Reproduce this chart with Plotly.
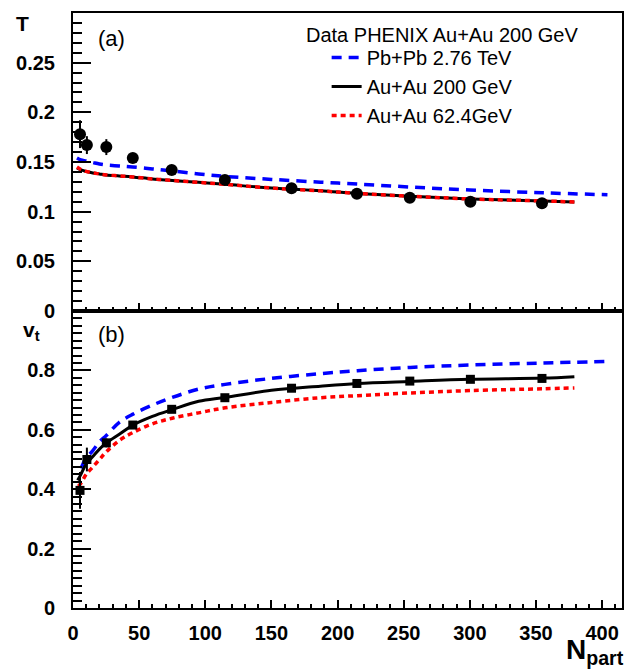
import plotly.graph_objects as go

# ---------------- data ----------------
npart = [5.3, 10.5, 25.2, 45.2, 74.6, 114.8, 165.2, 214.6, 254.6, 300.4, 354.5]
T_data = [0.178, 0.167, 0.165, 0.154, 0.142, 0.132, 0.1235, 0.118, 0.114, 0.110, 0.1085]
T_err = [0.014, 0.009, 0.008, 0.004, 0.003, 0.003, 0.003, 0.003, 0.003, 0.003, 0.003]
vt_data = [0.396, 0.500, 0.556, 0.616, 0.669, 0.708, 0.740, 0.756, 0.764, 0.770, 0.773]
vt_err = [0.062, 0.040, 0.015, 0.012, 0.010, 0.010, 0.010, 0.010, 0.010, 0.010, 0.010]

# model curves, panel (a): T vs Npart
npart_pb = [3, 6, 10, 15, 20, 25, 35, 45, 60, 75, 95, 115, 150, 187, 215, 255, 300, 355, 404]
T_pb = [0.154, 0.152, 0.151, 0.1495, 0.148, 0.147, 0.146, 0.145, 0.143, 0.141, 0.138,
        0.1355, 0.1325, 0.1297, 0.1278, 0.1248, 0.1218, 0.119, 0.117]
npart_au = [3, 6, 10, 15, 20, 25, 35, 45, 60, 75, 95, 115, 150, 187, 215, 255, 300, 355, 379]
T_au200 = [0.144, 0.142, 0.1405, 0.139, 0.138, 0.137, 0.136, 0.135, 0.133, 0.1315, 0.1295,
           0.1275, 0.1238, 0.121, 0.1183, 0.1155, 0.1128, 0.1108, 0.1098]
T_au62 = [0.145, 0.1425, 0.1405, 0.139, 0.138, 0.137, 0.136, 0.135, 0.133, 0.1315, 0.1295,
          0.1275, 0.1238, 0.121, 0.1183, 0.1155, 0.1128, 0.1108, 0.1098]

# model curves, panel (b): v_t vs Npart
npart_pb_v = [6, 10, 15, 20, 25, 35, 45, 60, 75, 95, 115, 150, 187, 215, 255, 300, 355, 404]
vt_pb = [0.47, 0.505, 0.53, 0.56, 0.58, 0.625, 0.652, 0.683, 0.709, 0.737, 0.753, 0.773,
         0.789, 0.799, 0.810, 0.818, 0.825, 0.830]
npart_au200_v = [3.5, 6, 10, 15, 20, 25, 35, 45, 60, 75, 95, 115, 150, 187, 215, 255, 300, 355, 379]
vt_au200 = [0.43, 0.45, 0.485, 0.51, 0.535, 0.555, 0.585, 0.615, 0.645, 0.668, 0.696, 0.709,
            0.733, 0.747, 0.756, 0.763, 0.770, 0.774, 0.779]
npart_au62_v = [4, 6, 10, 15, 20, 25, 35, 45, 60, 75, 95, 115, 150, 187, 215, 255, 300, 355, 379]
vt_au62 = [0.41, 0.42, 0.45, 0.475, 0.50, 0.525, 0.564, 0.59, 0.62, 0.639, 0.657, 0.674,
           0.692, 0.708, 0.715, 0.724, 0.732, 0.738, 0.741]

x_ticks = [0, 50, 100, 150, 200, 250, 300, 350, 400]
T_ticks = [0, 0.05, 0.1, 0.15, 0.2, 0.25]
vt_ticks = [0, 0.2, 0.4, 0.6, 0.8]

labels = ["Pb+Pb 2.76 TeV", "Au+Au 200 GeV", "Au+Au 62.4GeV"]
header = "Data PHENIX Au+Au 200 GeV"

# ---------------- styling ----------------
FONT = "Liberation Sans, Arial, Helvetica, sans-serif"
BLUE = "#0000ff"
RED = "#ff0000"
BLACK = "#000000"
blue_line = dict(color=BLUE, width=3.5, dash="10px,7px")
black_line = dict(color=BLACK, width=3)
red_line = dict(color=RED, width=3.5, dash="5px,4px")

fig = go.Figure()

# panel (a)
fig.add_trace(go.Scatter(x=npart_pb, y=T_pb, mode="lines", line=blue_line, line_shape="spline",
                         xaxis="x2", yaxis="y2", name=labels[0], showlegend=True))
fig.add_trace(go.Scatter(x=npart_au, y=T_au200, mode="lines", line=black_line, line_shape="spline",
                         xaxis="x2", yaxis="y2", name=labels[1], showlegend=True))
fig.add_trace(go.Scatter(x=npart_au, y=T_au62, mode="lines", line=red_line, line_shape="spline",
                         xaxis="x2", yaxis="y2", name=labels[2], showlegend=True))
fig.add_trace(go.Scatter(x=npart, y=T_data, mode="markers", xaxis="x2", yaxis="y2",
                         marker=dict(symbol="circle", size=12, color=BLACK),
                         error_y=dict(type="data", array=T_err, color=BLACK, thickness=2, width=0),
                         showlegend=False))

# panel (b)
fig.add_trace(go.Scatter(x=npart_pb_v, y=vt_pb, mode="lines", line=blue_line, line_shape="spline",
                         xaxis="x", yaxis="y", showlegend=False))
fig.add_trace(go.Scatter(x=npart_au62_v, y=vt_au62, mode="lines", line=red_line, line_shape="spline",
                         xaxis="x", yaxis="y", showlegend=False))
fig.add_trace(go.Scatter(x=npart_au200_v, y=vt_au200, mode="lines", line=black_line, line_shape="spline",
                         xaxis="x", yaxis="y", showlegend=False))
fig.add_trace(go.Scatter(x=npart, y=vt_data, mode="markers", xaxis="x", yaxis="y",
                         marker=dict(symbol="square", size=9, color=BLACK),
                         error_y=dict(type="data", array=vt_err, color=BLACK, thickness=2, width=0),
                         showlegend=False))

split = (608 - 310) / 597.0

common_x = dict(range=[0, 415], showline=True, linecolor=BLACK, linewidth=2, mirror=True,
                ticks="inside", ticklen=8, tickwidth=2, tickcolor=BLACK,
                tickvals=x_ticks, showgrid=False, zeroline=False,
                minor=dict(dtick=10, ticks="inside", ticklen=4, tickwidth=2, tickcolor=BLACK,
                           showgrid=False))

fig.update_layout(
    width=638, height=671, autosize=False,
    margin=dict(l=73, r=16, t=11, b=63),
    paper_bgcolor="white", plot_bgcolor="white",
    font=dict(family=FONT, size=20, color=BLACK),
    xaxis=dict(common_x, anchor="y", domain=[0, 1],
               tickfont=dict(family=FONT, size=20, weight="bold"), ticklabelstandoff=6),
    xaxis2=dict(common_x, anchor="y2", domain=[0, 1], showticklabels=False),
    yaxis=dict(domain=[0, split], range=[0, 1.0], anchor="x",
               showline=True, linecolor=BLACK, linewidth=2, mirror=True,
               ticks="inside", ticklen=18, tickwidth=2, tickcolor=BLACK,
               tickvals=vt_ticks, showgrid=False, zeroline=False,
               tickfont=dict(family=FONT, size=20, weight="bold"), ticklabelstandoff=12,
               minor=dict(dtick=0.025, ticks="inside", ticklen=9, tickwidth=2,
                          tickcolor=BLACK, showgrid=False)),
    yaxis2=dict(domain=[split, 1], range=[0, 0.3], anchor="x2",
                showline=True, linecolor=BLACK, linewidth=2, mirror=True,
                ticks="inside", ticklen=18, tickwidth=2, tickcolor=BLACK,
                tickvals=T_ticks, showgrid=False, zeroline=False,
                tickfont=dict(family=FONT, size=20, weight="bold"), ticklabelstandoff=12,
                minor=dict(dtick=0.01, ticks="inside", ticklen=9, tickwidth=2,
                           tickcolor=BLACK, showgrid=False)),
    legend=dict(x=0.462, y=0.958, xanchor="left", yanchor="top",
                bgcolor="rgba(0,0,0,0)", borderwidth=0,
                font=dict(family=FONT, size=20, color=BLACK),
                traceorder="normal", itemwidth=30),
    showlegend=True,
)

def px_x(px):
    return (px - 73.0) / (638 - 73 - 16)

def px_y(py):
    return (608 - py) / 597.0

annots = [
    dict(text="(a)", x=px_x(96), y=px_y(37), xanchor="left", yanchor="middle",
         font=dict(size=22)),
    dict(text="(b)", x=px_x(96), y=px_y(334), xanchor="left", yanchor="middle",
         font=dict(size=22)),
    dict(text=header, x=px_x(304), y=px_y(33), xanchor="left", yanchor="middle",
         font=dict(size=20)),
    dict(text="<b>T</b>", x=px_x(22), y=px_y(22), xanchor="center", yanchor="middle",
         font=dict(size=21)),
    dict(text="<b>v<sub>t</sub></b>", x=px_x(31), y=px_y(330), xanchor="center",
         yanchor="middle", font=dict(size=21)),
    dict(text="<b>N<sub>part</sub></b>", x=px_x(564), y=px_y(652), xanchor="left",
         yanchor="middle", font=dict(size=28)),
]
for a in annots:
    a.update(xref="paper", yref="paper", showarrow=False)
    a["font"] = dict(family=FONT, color=BLACK, **a["font"])
fig.update_layout(annotations=annots)

# the page's default body margin would shift the figure by 8 px; remove it
fig.write_html("out.html", config={"displayModeBar": False},
               post_script="document.body.style.margin='0';document.body.style.overflow='hidden';")
